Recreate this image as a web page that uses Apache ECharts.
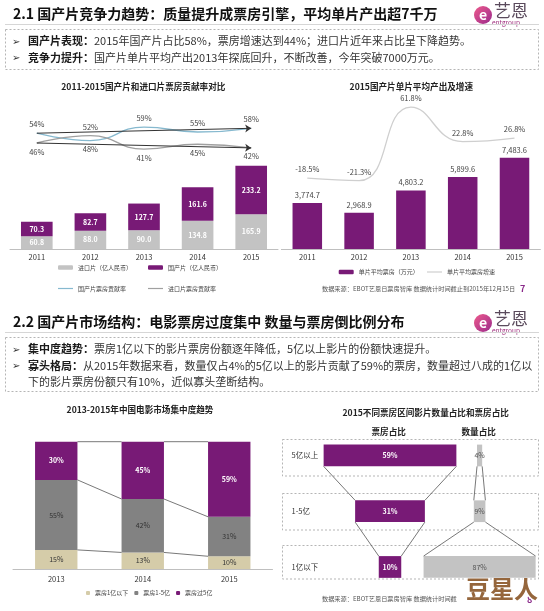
<!DOCTYPE html>
<html><head><meta charset="utf-8">
<script src="https://cdn.jsdelivr.net/npm/echarts@6/dist/echarts.min.js"></script>
<style>html,body{margin:0;padding:0;background:#fff}#c{width:544px;height:611px}</style>
</head><body><div id="c"></div>
<script>
// ---------- data ----------
const years1 = ['2011', '2012', '2013', '2014', '2015'];
const importedBO = [60.8, 88.0, 90.0, 134.8, 165.9];
const domesticBO = [70.3, 82.7, 127.7, 161.6, 233.2];
const domesticShare = [54, 48, 59, 55, 58];
const importedShare = [46, 52, 41, 45, 42];
const avgBO = [3774.7, 2968.9, 4803.2, 5899.6, 7483.6];
const avgGrowth = [-18.5, -21.3, 61.8, 22.8, 26.8];
const years2 = ['2013', '2014', '2015'];
const shareUnder1 = [15, 13, 10];
const share1to5 = [55, 42, 31];
const shareOver5 = [30, 45, 59];
const tiers = ['5亿以上', '1-5亿', '1亿以下'];
const tierBoxShare = [59, 31, 10];
const tierCountShare = [4, 9, 87];

// ---------- style ----------
const FONT = "'Noto Sans CJK SC','DejaVu Sans',sans-serif";
const PURPLE = '#781a76';
const LGRAY = '#c3c3c3';
const MGRAY = '#828282';
const BEIGE = '#d5cca9';
const BLUE = '#86b9cf';

function txt(x, y, text, size, opts) {
  return { type: 'text', x: x, y: y, silent: true,
    style: Object.assign({ text: text, fontSize: size, fontFamily: FONT, fill: '#222',
      align: 'left', verticalAlign: 'middle' }, opts || {}) };
}
function logo(y0) {
  return { type: 'group', x: 0, y: y0, silent: true, children: [
    { type: 'circle', shape: { cx: 483, cy: 15, r: 9 },
      style: { fill: new echarts.graphic.LinearGradient(0, 0, 1, 1, [
        { offset: 0, color: '#ee5a8c' }, { offset: 1, color: '#9a2a8c' }]) } },
    { type: 'text', x: 483, y: 15, style: { text: 'e', fontSize: 14, fontWeight: 'bold',
      fontFamily: FONT, fill: '#fff', align: 'center', verticalAlign: 'middle' } },
    { type: 'text', x: 494, y: 11, style: { text: '艺恩', fontSize: 17, fontFamily: FONT,
      fill: '#5a4a5c', align: 'left', verticalAlign: 'middle' } },
    { type: 'text', x: 492, y: 23, style: { text: 'entgroup', fontSize: 6.5, fontFamily: FONT,
      fill: '#a0307f', align: 'left', verticalAlign: 'middle' } }
  ] };
}
function dashBox(x, y, w, h) {
  return { type: 'rect', silent: true, shape: { x: x, y: y, width: w, height: h },
    style: { fill: 'none', stroke: '#b5b5b5', lineWidth: 1, lineDash: [2, 2] } };
}
const bulletRich = {
  b: { fontWeight: 'bold', fontSize: 11, fill: '#1a1a1a', fontFamily: FONT },
  n: { fontSize: 11, fill: '#333', fontFamily: FONT }
};
function bullet(y, text) {
  return [txt(12, y, '➢', 10, { fill: '#333' }),
    { type: 'text', x: 28, y: y, silent: true, style: { text: text, rich: bulletRich,
      align: 'left', verticalAlign: 'middle', fontFamily: FONT, fontSize: 11, fill: '#333' } }];
}

const graphics = [].concat(
  [txt(13, 14, '2.1 国产片竞争力趋势：质量提升成票房引擎，平均单片产出超7千万', 14, { fontWeight: 'bold', fill: '#111' }),
   logo(0),
   { type: 'line', silent: true, shape: { x1: 5, y1: 24.5, x2: 539, y2: 24.5 }, style: { stroke: '#d6d6d6', lineWidth: 1 } },
   dashBox(5.5, 29.5, 533, 40)],
  bullet(41, '{b|国产片表现：}{n|2015年国产片占比58%，票房增速达到44%；进口片近年来占比呈下降趋势。}'),
  bullet(57.5, '{b|竞争力提升：}{n|国产片单片平均产出2013年探底回升，不断改善，今年突破7000万元。}'),
  [txt(143.3, 87, '2011-2015国产片和进口片票房贡献率对比', 8.6, { fontWeight: 'bold', align: 'center' }),
   txt(411.3, 87, '2015国产片单片平均产出及增速', 8.6, { fontWeight: 'bold', align: 'center' }),
   txt(322, 289, '数据来源：EBOT艺恩日票房智库 数据统计时间截止到2015年12月15日', 6.2, { fill: '#555' }),
   txt(520, 289, '7', 9, { fill: '#8a2a8a', fontWeight: 'bold' }),

   txt(13, 321.7, '2.2 国产片市场结构：电影票房过度集中 数量与票房倒比例分布', 14, { fontWeight: 'bold', fill: '#111' }),
   logo(308),
   { type: 'line', silent: true, shape: { x1: 5, y1: 332.5, x2: 539, y2: 332.5 }, style: { stroke: '#d6d6d6', lineWidth: 1 } },
   dashBox(5.5, 337.5, 533, 54)],
  bullet(349.3, '{b|集中度趋势：}{n|票房1亿以下的影片票房份额逐年降低，5亿以上影片的份额快速提升。}'),
  bullet(365.7, '{b|寡头格局：}{n|从2015年数据来看，数量仅占4%的5亿以上的影片贡献了59%的票房，数量超过八成的1亿以}'),
  [txt(28, 381.7, '下的影片票房份额只有10%，近似寡头垄断结构。', 11, { fill: '#333' }),
   txt(140, 410, '2013-2015年中国电影市场集中度趋势', 8.6, { fontWeight: 'bold', align: 'center' }),
   txt(425.7, 412.3, '2015不同票房区间影片数量占比和票房占比', 8.6, { fontWeight: 'bold', align: 'center' }),
   txt(388.7, 431.7, '票房占比', 8.6, { fontWeight: 'bold', align: 'center' }),
   txt(478.7, 431.7, '数量占比', 8.6, { fontWeight: 'bold', align: 'center' }),
   dashBox(282.5, 439.5, 256, 36.5),
   dashBox(282.5, 493.5, 256, 36.5),
   dashBox(282.5, 545.5, 256, 33.5),
   txt(322, 599, '数据来源：EBOT艺恩日票房智库 数据统计时间截', 6.2, { fill: '#555' }),
   txt(527, 600, '8', 9, { fill: '#8a2a8a', fontWeight: 'bold' }),
   txt(502, 589, '豆星人', 24, { fontWeight: 'bold', align: 'center', fill: '#95663c', stroke: '#fff', lineWidth: 3 })]
);

// ---------- helpers for custom series ----------
function funnelRender(vals, fill, labelColor, bold) {
  return function (params, api) {
    const i = params.dataIndex;
    const v = vals[i];
    const c = api.coord([0, i]);
    const hw = api.size([v, 0])[0] / 2;
    const h = api.size([0, 1])[1] * 0.39;
    const children = [
      { type: 'rect', shape: { x: c[0] - hw, y: c[1] - h / 2, width: 2 * hw, height: h }, style: { fill: fill } },
      { type: 'text', x: c[0], y: c[1], style: { text: v + '%', fill: labelColor, fontSize: 7,
        fontWeight: bold ? 'bold' : 'normal', fontFamily: FONT, align: 'center', verticalAlign: 'middle' } }
    ];
    if (i < vals.length - 1) {
      const nc = api.coord([0, i + 1]);
      const nhw = api.size([vals[i + 1], 0])[0] / 2;
      children.push({ type: 'line', shape: { x1: c[0] - hw, y1: c[1] + h / 2, x2: nc[0] - nhw, y2: nc[1] - h / 2 },
        style: { stroke: '#555', lineWidth: 0.8 } });
      children.push({ type: 'line', shape: { x1: c[0] + hw, y1: c[1] + h / 2, x2: nc[0] + nhw, y2: nc[1] - h / 2 },
        style: { stroke: '#555', lineWidth: 0.8 } });
    }
    return { type: 'group', children: children };
  };
}
function cumAt(i) {
  return [shareUnder1[i], shareUnder1[i] + share1to5[i], shareUnder1[i] + share1to5[i] + shareOver5[i]];
}

const hiddenVal = (o) => Object.assign({ type: 'value', show: false, splitLine: { show: false } }, o);
const shownCat = (data, grid, margin) => ({ type: 'category', data: data, gridIndex: grid,
  axisLine: { show: true, lineStyle: { color: '#bfbfbf', width: 1 } }, axisTick: { show: false },
  axisLabel: { color: '#333', fontSize: 7.5, fontFamily: FONT, margin: margin } });

const legendBase = { padding: 0, itemWidth: 15, itemHeight: 4.5, itemGap: 8,
  textStyle: { fontSize: 6, color: '#444', fontFamily: FONT }, selectedMode: false };

const lineLabel = { show: true, formatter: '{c}%', fontSize: 7.5, color: '#444', distance: 5 };

const option = {
  animation: false,
  backgroundColor: '#fff',
  textStyle: { fontFamily: FONT },
  grid: [
    { left: 10, width: 268, top: 113.6, height: 49 },
    { left: 10, width: 268, top: 165.5, height: 83.5 },
    { left: 281.4, width: 259, top: 99.8, height: 88.6 },
    { left: 281.4, width: 259, top: 151.4, height: 97.6 },
    { left: 13, width: 259.5, top: 441.7, height: 127.3 },
    { left: 277.5, width: 225, top: 427.6, height: 167.25 },
    { left: 415.2, width: 130, top: 427.6, height: 167.25 }
  ],
  xAxis: [
    { type: 'category', data: years1, gridIndex: 0, show: false },
    shownCat(years1, 1, 4),
    { type: 'category', data: years1, gridIndex: 2, show: false },
    shownCat(years1, 3, 4),
    shownCat(years2, 4, 6),
    hiddenVal({ gridIndex: 5, min: -50, max: 50 }),
    hiddenVal({ gridIndex: 6, min: -50, max: 50 })
  ],
  yAxis: [
    hiddenVal({ gridIndex: 0, min: 30, max: 70 }),
    hiddenVal({ gridIndex: 1, min: 0, max: 400 }),
    hiddenVal({ gridIndex: 2, min: -30, max: 70 }),
    hiddenVal({ gridIndex: 3, min: 0, max: 8000 }),
    hiddenVal({ gridIndex: 4, min: 0, max: 100 }),
    { type: 'category', data: tiers, gridIndex: 5, inverse: true,
      axisLine: { show: false }, axisTick: { show: false }, splitLine: { show: false },
      axisLabel: { inside: true, margin: 14, color: '#333', fontSize: 7.5, fontFamily: FONT } },
    { type: 'category', data: tiers, gridIndex: 6, inverse: true, show: false }
  ],
  legend: [
    Object.assign({}, legendBase, { data: ['进口片（亿人民币）'], left: 58, top: 264.5 }),
    Object.assign({}, legendBase, { data: ['国产片（亿人民币）'], left: 148, top: 264.5 }),
    Object.assign({}, legendBase, { data: [{ name: '国产片票房贡献率', icon: 'rect' }], itemHeight: 1.2, left: 58, top: 285.5 }),
    Object.assign({}, legendBase, { data: [{ name: '进口片票房贡献率', icon: 'rect' }], itemHeight: 1.2, left: 148, top: 285.5 }),
    Object.assign({}, legendBase, { data: ['单片平均票房（万元）'], left: 338.7, top: 269 }),
    Object.assign({}, legendBase, { data: [{ name: '单片平均票房增速', icon: 'rect' }], itemHeight: 1.2, left: 427, top: 269 }),
    Object.assign({}, legendBase, { data: ['票房1亿以下', '票房1-5亿', '票房过5亿'], itemWidth: 4, itemHeight: 4,
      itemGap: 6, left: 86, top: 590 })
  ],
  graphic: graphics,
  series: [
    { name: '国产片票房贡献率', type: 'line', xAxisIndex: 0, yAxisIndex: 0, smooth: 0.5,
      symbol: 'circle', symbolSize: 0.01, showSymbol: true,
      lineStyle: { color: BLUE, width: 1.3 }, itemStyle: { color: BLUE },
      data: domesticShare.map((v, i) => ({ value: v, label: { position: v >= importedShare[i] ? 'top' : 'bottom' } })),
      label: lineLabel, labelLayout: { hideOverlap: false },
      markLine: { silent: true, symbol: ['none', 'arrow'], symbolSize: 6, label: { show: false },
        lineStyle: { color: '#333', width: 1, type: 'solid' },
        data: [[{ coord: [years1[0], domesticShare[0]] }, { coord: [years1[4], domesticShare[4]] }]] } },
    { name: '进口片票房贡献率', type: 'line', xAxisIndex: 0, yAxisIndex: 0, smooth: 0.5,
      symbol: 'circle', symbolSize: 0.01, showSymbol: true,
      lineStyle: { color: '#a0a0a0', width: 1.3 }, itemStyle: { color: '#a0a0a0' },
      data: importedShare.map((v, i) => ({ value: v, label: { position: v > domesticShare[i] ? 'top' : 'bottom' } })),
      label: lineLabel, labelLayout: { hideOverlap: false },
      markLine: { silent: true, symbol: ['none', 'arrow'], symbolSize: 6, label: { show: false },
        lineStyle: { color: '#333', width: 1, type: 'solid' },
        data: [[{ coord: [years1[0], importedShare[0]] }, { coord: [years1[4], importedShare[4]] }]] } },
    { name: '进口片（亿人民币）', type: 'bar', xAxisIndex: 1, yAxisIndex: 1, stack: 'bo', barWidth: '59%',
      itemStyle: { color: LGRAY }, data: importedBO,
      label: { show: true, position: 'inside', color: '#fff', fontSize: 7, fontWeight: 'bold',
        formatter: p => p.value.toFixed(1) } },
    { name: '国产片（亿人民币）', type: 'bar', xAxisIndex: 1, yAxisIndex: 1, stack: 'bo', barWidth: '59%',
      itemStyle: { color: PURPLE }, data: domesticBO,
      label: { show: true, position: 'inside', color: '#fff', fontSize: 7, fontWeight: 'bold',
        formatter: p => p.value.toFixed(1) } },
    { name: '单片平均票房增速', type: 'line', xAxisIndex: 2, yAxisIndex: 2, smooth: 0.5,
      symbol: 'circle', symbolSize: 0.01, showSymbol: true,
      lineStyle: { color: '#cfcfcf', width: 1.3 }, itemStyle: { color: '#cfcfcf' }, data: avgGrowth,
      label: Object.assign({}, lineLabel, { position: 'top' }) },
    { name: '单片平均票房（万元）', type: 'bar', xAxisIndex: 3, yAxisIndex: 3, barWidth: '57%',
      itemStyle: { color: PURPLE }, data: avgBO,
      label: { show: true, position: 'top', distance: 4, fontSize: 7.5, color: '#444',
        formatter: p => p.value.toLocaleString('en-US', { minimumFractionDigits: 1, maximumFractionDigits: 1 }) } },
    { name: '票房1亿以下', type: 'bar', xAxisIndex: 4, yAxisIndex: 4, stack: 'sh', barWidth: '49%',
      itemStyle: { color: BEIGE }, data: shareUnder1,
      label: { show: true, position: 'inside', formatter: '{c}%', fontSize: 7, color: '#333' } },
    { name: '票房1-5亿', type: 'bar', xAxisIndex: 4, yAxisIndex: 4, stack: 'sh', barWidth: '49%',
      itemStyle: { color: MGRAY }, data: share1to5,
      label: { show: true, position: 'inside', formatter: '{c}%', fontSize: 7, color: '#333' } },
    { name: '票房过5亿', type: 'bar', xAxisIndex: 4, yAxisIndex: 4, stack: 'sh', barWidth: '49%',
      itemStyle: { color: PURPLE }, data: shareOver5,
      label: { show: true, position: 'inside', formatter: '{c}%', fontSize: 7, color: '#fff', fontWeight: 'bold' } },
    { name: 'seriesLines', type: 'custom', xAxisIndex: 4, yAxisIndex: 4, silent: true, z: 5,
      data: years2.map((y, i) => [i, 0]),
      renderItem: function (params, api) {
        const i = params.dataIndex;
        if (i >= years2.length - 1) return { type: 'group', children: [] };
        const bw = api.size([1, 0])[0] * 0.49 / 2;
        const a = cumAt(i), b = cumAt(i + 1);
        return { type: 'group', children: a.map((va, k) => {
          const p1 = api.coord([i, va]), p2 = api.coord([i + 1, b[k]]);
          return { type: 'line', shape: { x1: p1[0] + bw, y1: p1[1], x2: p2[0] - bw, y2: p2[1] },
            style: { stroke: '#555', lineWidth: 0.8 } };
        }) };
      } },
    { name: 'boxShare', type: 'custom', xAxisIndex: 5, yAxisIndex: 5, silent: true,
      data: tierBoxShare.map((v, i) => [v, i]),
      renderItem: funnelRender(tierBoxShare, PURPLE, '#fff', true) },
    { name: 'countShare', type: 'custom', xAxisIndex: 6, yAxisIndex: 6, silent: true,
      data: tierCountShare.map((v, i) => [v, i]),
      renderItem: funnelRender(tierCountShare, LGRAY, '#555', false) }
  ]
};
const chart = echarts.init(document.getElementById('c'));
chart.setOption(option);
</script>
</body></html>
